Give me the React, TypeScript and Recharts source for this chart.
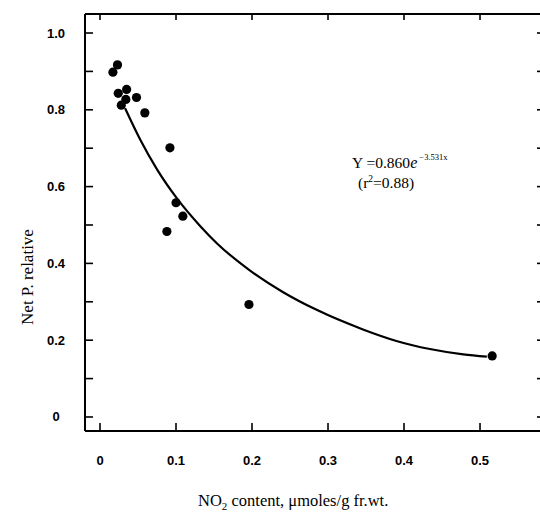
import React from 'react';
import { ComposedChart, XAxis, YAxis, Scatter, Line, Customized } from 'recharts';

// Observed points (NO2 content, Net P. relative)
const obsX = [0.023, 0.017, 0.024, 0.035, 0.034, 0.028, 0.048, 0.059, 0.092, 0.1, 0.109, 0.088, 0.196, 0.516];
const obsY = [0.917, 0.898, 0.843, 0.853, 0.827, 0.812, 0.832, 0.792, 0.701, 0.558, 0.523, 0.483, 0.293, 0.159];

// Fitted curve as drawn in the figure
const fitX = [0.033, 0.053, 0.075, 0.101, 0.132, 0.154, 0.197, 0.241, 0.285, 0.346, 0.39, 0.434, 0.478, 0.509];
const fitY = [0.804, 0.722, 0.645, 0.57, 0.497, 0.452, 0.382, 0.325, 0.279, 0.228, 0.198, 0.177, 0.163, 0.157];

const xTicks = [0, 0.1, 0.2, 0.3, 0.4, 0.5];
const xTickLabels = ['0', '0.1', '0.2', '0.3', '0.4', '0.5'];
const yTicks = [0, 0.1, 0.2, 0.3, 0.4, 0.5, 0.6, 0.7, 0.8, 0.9, 1.0];
const yTickLabels = ['0', '', '0.2', '', '0.4', '', '0.6', '', '0.8', '', '1.0'];

const scatterData = obsX.map((x, i) => ({ x, y: obsY[i] }));
const fitData = fitX.map((x, i) => ({ x, y: fitY[i] }));

const tickFont = { fontFamily: '"Liberation Sans", Arial, sans-serif', fontSize: 13, fontWeight: 700 };
const serif = '"Liberation Serif", "Times New Roman", serif';

const BottomTick = (props: any) => {
  const { x, y, index } = props;
  return (
    <g>
      <line x1={x} y1={y} x2={x} y2={y - 8} stroke="#000" strokeWidth={1.6} />
      <text x={x} y={y + 34} textAnchor="middle" fill="#000" style={tickFont}>{xTickLabels[index]}</text>
    </g>
  );
};

const TopTick = (props: any) => {
  const { x, y } = props;
  return <line x1={x} y1={y} x2={x} y2={y + 6} stroke="#000" strokeWidth={1.6} />;
};

const LeftTick = (props: any) => {
  const { x, y, index } = props;
  return (
    <g>
      <line x1={x} y1={y} x2={x + 8} y2={y} stroke="#000" strokeWidth={1.6} />
      <text x={x - 29} y={y + 4.5} textAnchor="middle" fill="#000" style={tickFont}>{yTickLabels[index]}</text>
    </g>
  );
};

const RightTick = (props: any) => {
  const { x, y } = props;
  return <line x1={x} y1={y} x2={x - 8} y2={y} stroke="#000" strokeWidth={1.6} />;
};

const Annotations = () => (
  <g>
    <text x={27} y={277} transform="rotate(-90 27 277)" textAnchor="middle" dominantBaseline="central"
      style={{ fontFamily: serif, fontSize: 17 }} fill="#000">Net P. relative</text>
    <text x={198} y={506} style={{ fontFamily: serif, fontSize: 16.5 }} fill="#000">
      NO<tspan fontSize={11} dy={4}>2</tspan><tspan dy={-4}> content, μmoles/g fr.wt.</tspan>
    </text>
    <text x={352} y={168} style={{ fontFamily: serif, fontSize: 15.5 }} fill="#000">
      Y =0.860<tspan fontStyle="italic" fontSize={16}>e</tspan>
      <tspan fontSize={8.5} dy={-8}> −3.531x</tspan>
    </text>
    <text x={358} y={188} style={{ fontFamily: serif, fontSize: 15.5 }} fill="#000">
      (r<tspan fontSize={9.5} dy={-6}>2</tspan><tspan dy={6}>=0.88)</tspan>
    </text>
  </g>
);

export default function App() {
  return (
    <div style={{ position: 'absolute', left: 0, top: 0, width: 540, height: 515, overflow: 'hidden', background: '#fff' }}>
      <ComposedChart width={546} height={515} margin={{ top: 13, right: 0, bottom: 44, left: 40 }}>
        <XAxis xAxisId="bottom" type="number" dataKey="x" domain={[-0.01974, 0.5855]} allowDataOverflow
          ticks={xTicks} interval={0} tickSize={0} tickMargin={0} height={40}
          axisLine={{ stroke: '#000', strokeWidth: 2 }} tickLine={false} tick={<BottomTick />} />
        <XAxis xAxisId="top" orientation="top" type="number" dataKey="x" domain={[-0.01974, 0.5855]} allowDataOverflow
          ticks={xTicks} interval={0} tickSize={0} tickMargin={0} height={1}
          axisLine={{ stroke: '#000', strokeWidth: 2 }} tickLine={false} tick={<TopTick />} />
        <YAxis yAxisId="left" type="number" domain={[-0.0365, 1.0495]} allowDataOverflow
          ticks={yTicks} interval={0} tickSize={0} tickMargin={0} width={45}
          axisLine={{ stroke: '#000', strokeWidth: 2 }} tickLine={false} tick={<LeftTick />} />
        <YAxis yAxisId="right" orientation="right" type="number" domain={[-0.0365, 1.0495]} allowDataOverflow
          ticks={yTicks} interval={0} tickSize={0} tickMargin={0} width={1}
          axisLine={{ stroke: '#000', strokeWidth: 2 }} tickLine={false} tick={<RightTick />} />
        <Line xAxisId="bottom" yAxisId="left" data={fitData} dataKey="y" type="monotone" stroke="#000"
          strokeWidth={2.2} dot={false} activeDot={false} isAnimationActive={false} />
        <Scatter xAxisId="bottom" yAxisId="left" data={scatterData} dataKey="y" fill="#000"
          shape={(p: any) => <circle cx={p.cx} cy={p.cy} r={4.6} fill="#000" />} isAnimationActive={false} />
        <Customized component={<Annotations />} />
      </ComposedChart>
    </div>
  );
}
